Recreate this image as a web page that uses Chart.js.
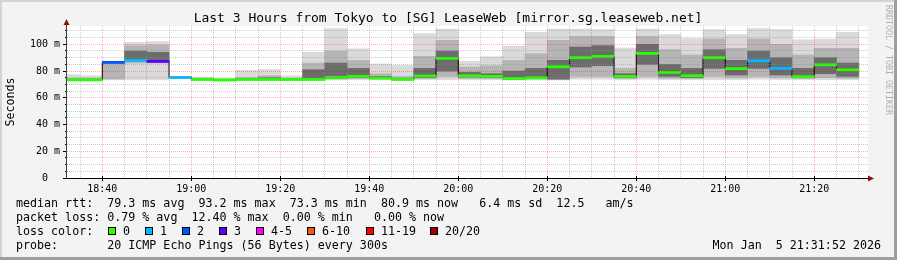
<!DOCTYPE html>
<html><head><meta charset="utf-8">
<script src="https://cdn.jsdelivr.net/npm/chart.js@4.4.1/dist/chart.umd.min.js"></script>
<style>html,body{margin:0;padding:0;background:#f3f3f3;}canvas{display:block;}</style>
</head><body><canvas id="c" width="897" height="260"></canvas>
<script>
// ---- data (5-minute SmokePing steps) ----
const startTimes = ["18:30","18:35","18:40","18:45","18:50","18:55","19:00","19:05","19:10","19:15","19:20","19:25",
  "19:30","19:35","19:40","19:45","19:50","19:55","20:00","20:05","20:10","20:15","20:20","20:25",
  "20:30","20:35","20:40","20:45","20:50","20:55","21:00","21:05","21:10","21:15","21:20","21:25"];
const lossCount = [0,0,2,1,3,1,0,0,0,0,0,0, 0,0,0,0,0,0,0,0,0,0,0,0, 0,0,0,0,0,0,0,1,1,0,0,0];
const medianMs = [73.4,73.4,86.5,88.0,87.2,75.2,73.7,73.3,73.7,73.7,73.7,73.7,
  75.2,76.0,74.8,73.7,76.3,89.5,76.5,76.0,74.5,75.0,83.2,90.0,
  91.0,76.0,93.2,79.0,76.5,90.0,81.8,87.7,82.0,75.8,84.7,80.9];
const minMs = [73.3,73.3,73.5,73.5,73.5,74.6,73.3,73.2,73.3,73.3,73.3,73.3,
  73.3,73.5,73.5,73.3,73.5,73.5,73.5,73.5,73.3,73.3,73.3,74.0,
  74.0,73.5,74.0,73.5,73.5,73.5,73.5,74.0,73.5,73.5,73.5,73.5];
const maxMs = [77.2,76.5,87.0,101.5,102.0,75.8,75.5,74.4,80.5,81.2,76.5,94.0,
  111.7,96.7,85.3,84.2,108.0,111.4,87.2,90.7,98.5,108.9,111.4,111.4,
  111.0,97.2,111.4,107.2,104.2,111.0,107.2,111.7,111.0,103.4,103.9,108.9];
const lowMs = [73.3,73.3,74.0,86.0,86.0,74.8,73.5,73.3,73.5,73.6,73.5,74.0,
  74.0,74.5,74.0,73.5,74.5,76.0,74.5,74.5,74.0,74.0,73.5,76.0,
  76.0,74.5,76.0,74.5,74.5,76.0,75.0,76.0,75.0,74.5,75.0,74.5];
const highMs = [74.5,74.5,86.5,99.0,99.5,75.5,74.3,74.0,75.0,76.5,74.5,86.0,
  95.0,88.0,78.0,76.0,91.0,103.0,83.0,84.0,88.0,93.0,103.0,106.0,
  106.0,82.0,106.0,96.0,92.0,104.0,97.0,104.0,100.0,92.0,97.0,97.0];
const coreLowMs = [73.5,73.5,86.0,88.0,87.5,75.0,73.6,73.3,73.6,73.8,73.6,74.5,
  74.5,75.0,74.3,73.6,75.0,80.0,75.5,75.0,74.0,74.5,74.0,83.0,
  84.0,75.0,85.0,76.0,75.0,82.0,77.0,82.0,77.0,75.0,78.0,76.0];
const coreHighMs = [74.0,74.0,86.5,95.0,94.0,75.3,74.0,73.8,74.2,75.0,74.0,81.0,
  86.0,82.0,76.0,74.5,82.0,95.0,79.0,78.0,80.0,82.0,88.0,98.0,
  99.0,78.0,100.0,85.0,82.0,96.0,88.0,95.0,90.0,82.0,90.0,86.0];
const xTickLabels = ["18:40","19:00","19:20","19:40","20:00","20:20","20:40","21:00","21:20"];
const yTickLabels = ["0","20 m","40 m","60 m","80 m","100 m"];
const lossLegend = ["0","1","2","3","4-5","6-10","11-19","20/20"];
const lossColors = ["#26ff00","#00b8ff","#0059ff","#5e00ff","#ff00ff","#ff5500","#ff0000","#a10000"];

// ---- helpers ----
const toMin = s => { const p = s.split(':').map(Number); return p[0]*60 + p[1]; };
const STEP = 5;
const viewStart = 1112.07, viewEnd = 1292.07;
const lossColorFor = n => n === 0 ? lossColors[0] : n === 1 ? lossColors[1] : n === 2 ? lossColors[2] :
  n === 3 ? lossColors[3] : n <= 5 ? lossColors[4] : n <= 10 ? lossColors[5] : n <= 19 ? lossColors[6] : lossColors[7];

const centers = startTimes.map(t => toMin(t) + STEP/2);
const floatBar = (lo, hi) => centers.map((c,i) => ({x: c, y: [lo[i], hi[i]]}));
const barCommon = {type:'bar', grouped:false, barPercentage:1, categoryPercentage:1, borderWidth:0};

const stepPts = startTimes.map((t,i) => ({x: toMin(t), y: medianMs[i]}));
stepPts.push({x: toMin(startTimes[startTimes.length-1]) + STEP, y: medianMs[medianMs.length-1]});

const MONO = '"DejaVu Sans Mono", monospace';

const decor = {
  id: 'decor',
  beforeDraw(chart) {
    const ctx = chart.ctx, a = chart.chartArea;
    ctx.save();
    ctx.fillStyle = '#f3f3f3'; ctx.fillRect(0,0,897,260);
    ctx.fillStyle = '#d4d4d4'; ctx.fillRect(0,0,897,2); ctx.fillRect(0,0,2,260);
    ctx.fillStyle = '#9e9e9e'; ctx.fillRect(894,0,3,260); ctx.fillRect(0,257,897,3);
    ctx.fillStyle = '#ffffff'; ctx.fillRect(a.left, a.top, a.right - a.left, a.bottom - a.top);
    ctx.restore();
  },
  afterDraw(chart) {
    const ctx = chart.ctx, a = chart.chartArea;
    const xs = chart.scales.x, ys = chart.scales.y;
    ctx.save();
    // tick marks
    ctx.strokeStyle = '#000'; ctx.lineWidth = 1;
    xs.ticks.forEach(t => {
      if (t.value % 20 === 0) {
        const px = Math.floor(xs.getPixelForValue(t.value)) + 0.5;
        ctx.beginPath(); ctx.moveTo(px, a.bottom - 2); ctx.lineTo(px, a.bottom + 3); ctx.stroke();
      }
    });
    ys.ticks.forEach(t => {
      const py = Math.floor(ys.getPixelForValue(t.value)) + 0.5;
      const len = t.value % 20 === 0 ? 4 : 2;
      ctx.beginPath(); ctx.moveTo(a.left - len, py); ctx.lineTo(a.left, py); ctx.stroke();
    });
    // axes
    ctx.strokeStyle = '#000';
    ctx.beginPath(); ctx.moveTo(a.left, a.bottom + 0.5); ctx.lineTo(a.right + 2, a.bottom + 0.5); ctx.stroke();
    ctx.strokeStyle = '#404040';
    ctx.beginPath(); ctx.moveTo(a.left - 0.5, a.bottom + 1); ctx.lineTo(a.left - 0.5, a.top - 3); ctx.stroke();
    ctx.fillStyle = '#8b1010';
    ctx.beginPath(); ctx.moveTo(a.right + 6, a.bottom + 0.5); ctx.lineTo(a.right, a.bottom - 2.5); ctx.lineTo(a.right, a.bottom + 3.5); ctx.closePath(); ctx.fill();
    ctx.beginPath(); ctx.moveTo(a.left - 0.5, a.top - 7); ctx.lineTo(a.left - 3.5, a.top - 1); ctx.lineTo(a.left + 2.5, a.top - 1); ctx.closePath(); ctx.fill();
    // title
    ctx.fillStyle = '#000';
    ctx.font = '13px ' + MONO; ctx.textAlign = 'center'; ctx.textBaseline = 'middle';
    ctx.fillText('Last 3 Hours from Tokyo to [SG] LeaseWeb [mirror.sg.leaseweb.net]', 448, 19);
    // y title
    ctx.font = '11.67px ' + MONO;
    ctx.save(); ctx.translate(11, 102); ctx.rotate(-Math.PI/2); ctx.fillText('Seconds', 0, 0); ctx.restore();
    // watermark
    ctx.save(); ctx.fillStyle = '#b0b0b0'; ctx.font = '8.3px ' + MONO; ctx.textAlign = 'left';
    ctx.translate(888, 5); ctx.rotate(Math.PI/2); ctx.fillText('RRDTOOL / TOBI OETIKER', 0, 0); ctx.restore();
    // legend
    ctx.textAlign = 'left'; ctx.fillStyle = '#000'; ctx.font = '11.67px ' + MONO;
    ctx.fillText('median rtt:  79.3 ms avg  93.2 ms max  73.3 ms min  80.9 ms now   6.4 ms sd  12.5   am/s', 16, 204);
    ctx.fillText('packet loss: 0.79 % avg  12.40 % max  0.00 % min   0.00 % now', 16, 218);
    ctx.fillText('loss color:', 16, 232);
    const sqX = [108, 145, 182, 219, 256, 307, 366, 430];
    lossLegend.forEach((lab, i) => {
      ctx.fillStyle = lossColors[i]; ctx.fillRect(sqX[i], 227, 8, 8);
      ctx.strokeStyle = '#000'; ctx.strokeRect(sqX[i] + 0.5, 227.5, 7, 7);
      ctx.fillStyle = '#000'; ctx.fillText(lab, sqX[i] + 15, 232);
    });
    ctx.fillText('probe:       20 ICMP Echo Pings (56 Bytes) every 300s', 16, 246);
    ctx.textAlign = 'right';
    ctx.fillText('Mon Jan  5 21:31:52 2026', 881, 246);
    ctx.restore();
  }
};

const gridColor = c => (c.tick && c.tick.value % 20 === 0) ? 'rgba(255,0,0,0.3)' : 'rgba(140,140,140,0.45)';

new Chart(document.getElementById('c'), {
  type: 'bar',
  data: {
    datasets: [
      Object.assign({}, barCommon, {label:'median', order:0, data: floatBar(medianMs.map(v=>v-0.8), medianMs.map(v=>v+0.8)),
        backgroundColor: lossCount.map(lossColorFor)}),
      {type:'line', label:'median step', order:1, data: stepPts, stepped:true, borderColor:'#000', borderWidth:1,
        pointRadius:0, fill:false},
      Object.assign({}, barCommon, {label:'core', order:2, data: floatBar(coreLowMs, coreHighMs), backgroundColor:'#6c6c6c'}),
      Object.assign({}, barCommon, {label:'mid', order:3, data: floatBar(lowMs, highMs), backgroundColor:'#b5b5b5'}),
      Object.assign({}, barCommon, {label:'outer', order:4, data: floatBar(minMs, maxMs), backgroundColor:'#dadada'})
    ]
  },
  options: {
    responsive:false, animation:false, devicePixelRatio:1,
    layout: {padding: {left:0, right:29, top:26, bottom:0}},
    plugins: {legend:{display:false}, tooltip:{enabled:false}},
    scales: {
      x: {
        type:'linear', min: viewStart, max: viewEnd, offset:false, bounds:'data',
        afterFit: s => { s.height = 82; },
        afterBuildTicks: s => { const t=[]; for (let v=1115; v<=1290; v+=5) t.push({value:v}); s.ticks = t; },
        ticks: {autoSkip:false, maxRotation:0, padding:5, color:'#000', font:{family:'DejaVu Sans Mono', size:10},
          callback: v => { const m = Math.round(v); if (m % 20 !== 0) return ''; const h = Math.floor(m/60), mm = m%60;
            const s = String(h).padStart(2,'0') + ':' + String(mm).padStart(2,'0'); return xTickLabels.includes(s) ? s : ''; }},
        grid: {color: gridColor, lineWidth:1, drawTicks:false, offset:false, z:1},
        border: {display:false, dash:[1,1]}
      },
      y: {
        type:'linear', min:0, max:113.7,
        afterFit: s => { s.width = 67; },
        afterBuildTicks: s => { const t=[]; for (let v=0; v<=110; v+=5) t.push({value:v}); s.ticks = t; },
        ticks: {autoSkip:false, padding:7, color:'#000', font:{family:'DejaVu Sans Mono', size:10},
          callback: v => { if (v % 20 !== 0) return ''; const l = yTickLabels[v/20]; return v === 0 ? l + '  ' : l; }},
        grid: {color: gridColor, lineWidth:1, drawTicks:false, z:1},
        border: {display:false, dash:[1,1]}
      }
    }
  },
  plugins: [decor]
});
</script></body></html>
